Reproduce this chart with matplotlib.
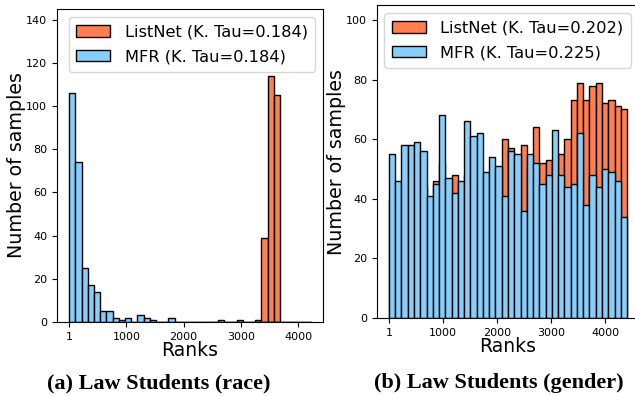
import numpy as np
import matplotlib
matplotlib.use("Agg")
import matplotlib.pyplot as plt

# (a) law students, race -- 39 bins over ranks 1..4224
race_lo, race_hi, race_nbins = 1, 4224, 39
race_mfr = [106, 74, 25, 17, 14, 5, 5, 2, 1, 2,
            0, 3, 2, 1, 0, 0, 2, 0, 0, 0,
            0, 0, 0, 0, 1, 0, 0, 0, 0, 0,
            0, 0, 0, 0, 0, 0, 0, 0, 0]
race_listnet = [0, 0, 0, 0, 0, 0, 0, 0, 0, 0,
                0, 0, 0, 0, 0, 0, 0, 0, 0, 0,
                0, 0, 0, 0, 0, 0, 0, 1, 0, 0,
                1, 39, 114, 105, 0, 0, 0, 0, 0]

# (b) law students, gender -- 38 bins over ranks 1..4400
gen_lo, gen_hi, gen_nbins = 1, 4400, 38
gen_mfr = [55, 46, 58, 58, 59, 56, 41, 45, 68, 47,
           42, 46, 66, 61, 62, 49, 54, 51, 41, 56,
           55, 36, 55, 52, 45, 48, 63, 48, 44, 45,
           62, 38, 48, 44, 50, 49, 46, 34]
gen_listnet = [40, 38, 45, 42, 50, 44, 36, 46, 52, 40,
               48, 39, 48, 50, 47, 44, 46, 43, 60, 57,
               48, 58, 50, 64, 52, 53, 52, 55, 60, 73,
               79, 73, 78, 79, 72, 73, 71, 70]

lab_listnet = ['ListNet (K. Tau=0.184)', 'ListNet (K. Tau=0.202)']
lab_mfr = ['MFR (K. Tau=0.184)', 'MFR (K. Tau=0.225)']
captions = ['(a) Law Students (race)', '(b) Law Students (gender)']

c_orange = '#FF7F50'
c_blue = '#87CEFA'

fig = plt.figure(figsize=(6.35, 3.96), dpi=100)
ax1 = fig.add_axes([0.0898, 0.187, 0.419, 0.790])
ax2 = fig.add_axes([0.5937, 0.197, 0.4126, 0.790])

panels = [(ax1, race_lo, race_hi, race_nbins, race_listnet, race_mfr, 145),
          (ax2, gen_lo, gen_hi, gen_nbins, gen_listnet, gen_mfr, 105)]

for k, (ax, lo, hi, nb, ln, mf, ytop) in enumerate(panels):
    edges = np.linspace(lo, hi, nb + 1)
    w = edges[1] - edges[0]
    ax.bar(edges[:-1], ln, width=w, align='edge', color=c_orange,
           edgecolor='black', linewidth=1, label=lab_listnet[k])
    ax.bar(edges[:-1], mf, width=w, align='edge', color=c_blue,
           edgecolor='black', linewidth=1, label=lab_mfr[k])
    ax.set_ylim(0, ytop)
    ax.set_xticks([1, 1000, 2000, 3000, 4000])
    ax.tick_params(labelsize=8)
    ax.set_xlabel('Ranks', fontsize=13.5, labelpad=-0.5)
    ax.set_ylabel('Number of samples', fontsize=13.7, labelpad=0)
    ax.legend(loc='upper right', fontsize=11.7, handlelength=2.1,
              handletextpad=0.9, labelspacing=0.6, borderpad=0.45)

ax1.set_yticks(np.arange(0, 141, 20))
ax2.set_yticks(np.arange(0, 101, 20))

fig.text(0.25, 0.02, captions[0], fontsize=16, fontweight='bold',
         family='Liberation Serif', ha='center')
fig.text(0.785, 0.02, captions[1], fontsize=16, fontweight='bold',
         family='Liberation Serif', ha='center')

fig.savefig('out.png', dpi=100)
